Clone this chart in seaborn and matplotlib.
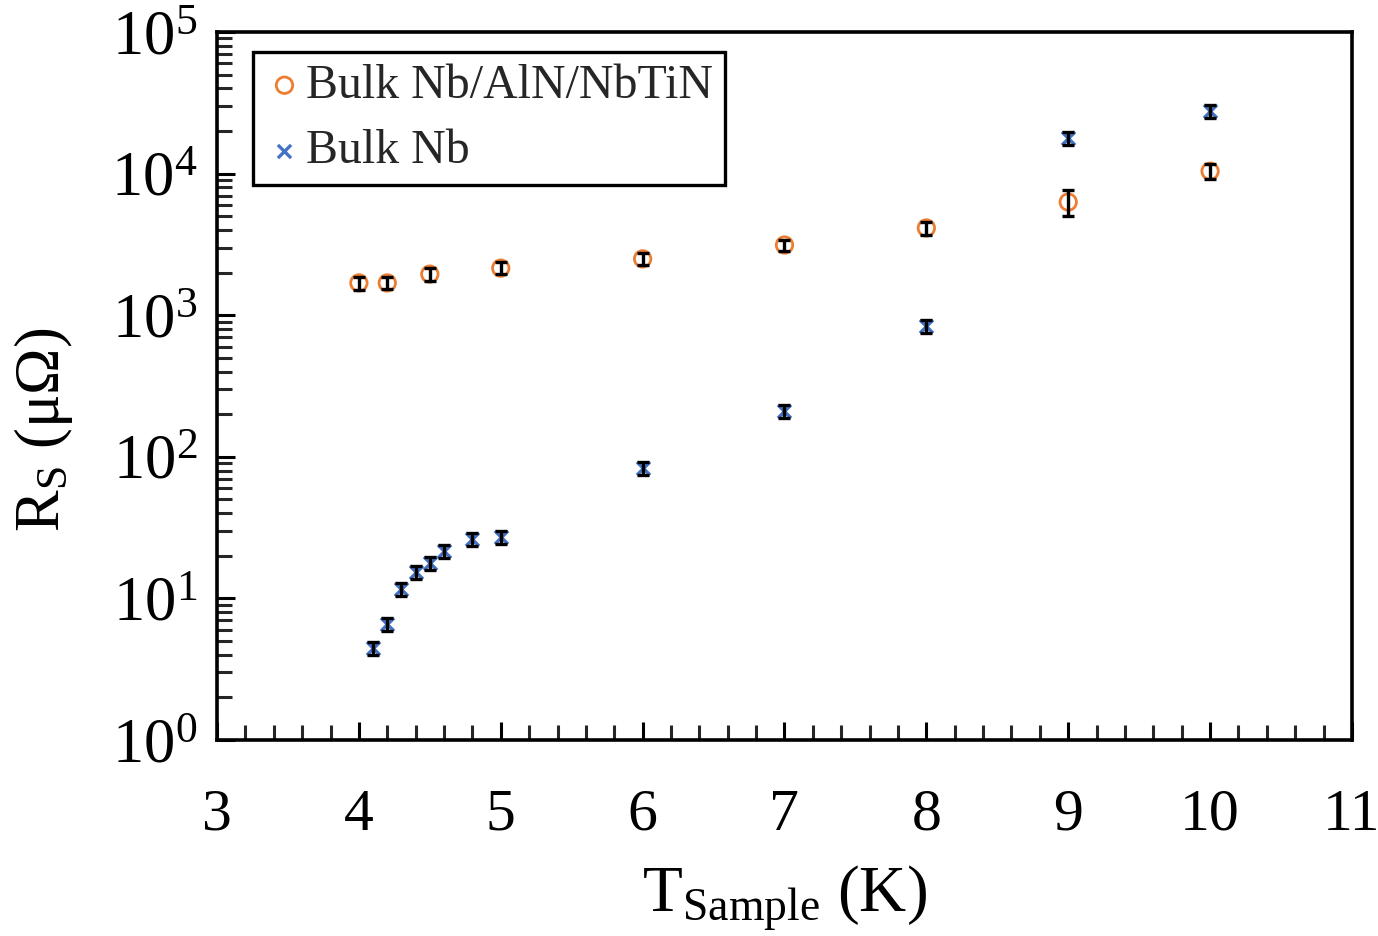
import numpy as np
import pandas as pd
import matplotlib
matplotlib.use("Agg")
import matplotlib.pyplot as plt
import seaborn as sns
from matplotlib.ticker import MultipleLocator, LogLocator, NullFormatter

# ---- data ----
t_coated = [4.0, 4.2, 4.5, 5.0, 6.0, 7.0, 8.0, 9.0, 10.0]
rs_coated = [1690, 1690, 1950, 2150, 2500, 3130, 4130, 6300, 10400]
err_coated = [180, 170, 200, 210, 240, 290, 420, 1300, 1300]

t_bulk = [4.1, 4.2, 4.3, 4.4, 4.5, 4.6, 4.8, 5.0, 6.0, 7.0, 8.0, 9.0, 10.0]
rs_bulk = [4.46, 6.6, 11.6, 15.4, 17.8, 21.6, 26.3, 27.2, 83, 211, 839, 17800, 27700]
err_bulk = [0.5, 0.7, 1.2, 1.6, 1.8, 2.2, 2.7, 2.8, 8.5, 22, 85, 2000, 2900]

label_coated = "Bulk Nb/AlN/NbTiN"
label_bulk = "Bulk Nb"
ytick_vals = [1, 10, 100, 1000, 10000, 100000]
ytick_labels = [r"10$^{0}$", r"10$^{1}$", r"10$^{2}$", r"10$^{3}$", r"10$^{4}$", r"10$^{5}$"]
xtick_vals = [3, 4, 5, 6, 7, 8, 9, 10, 11]

orange = "#ED7D31"
blue = "#4472C4"

sns.set_theme(style="white")
plt.rcParams["font.family"] = ["Liberation Serif", "DejaVu Serif"]
plt.rcParams["mathtext.fontset"] = "custom"
plt.rcParams["mathtext.rm"] = "Liberation Serif"
plt.rcParams["mathtext.it"] = "Liberation Serif:italic"
plt.rcParams["mathtext.bf"] = "Liberation Serif:bold"

df_c = pd.DataFrame({"T": t_coated, "R": rs_coated})
df_b = pd.DataFrame({"T": t_bulk, "R": rs_bulk})

fig = plt.figure(figsize=(13.78, 9.36), dpi=100)
ax = fig.add_axes([0.1575, 0.2094, 0.9811 - 0.1575, 0.9658 - 0.2094])

sns.scatterplot(data=df_c, x="T", y="R", ax=ax, marker="o", s=140,
                color=orange, linewidth=2.0, label=label_coated, zorder=3)
coll_c = ax.collections[-1]
coll_c.set_facecolor("none")
coll_c.set_edgecolor(orange)

sns.scatterplot(data=df_b, x="T", y="R", ax=ax, marker="x", s=90,
                color=blue, linewidth=2.4, label=label_bulk, zorder=3)

ax.errorbar(t_coated, rs_coated, yerr=err_coated, fmt="none", ecolor="black",
            elinewidth=2.4, capsize=4, capthick=2.4, zorder=4)
ax.errorbar(t_bulk, rs_bulk, yerr=err_bulk, fmt="none", ecolor="black",
            elinewidth=2.4, capsize=4, capthick=2.4, zorder=4)

ax.set_yscale("log")
ax.set_xlim(3, 11)
ax.set_ylim(1, 1e5)

ax.set_xticks(xtick_vals)
ax.set_xticklabels([str(v) for v in xtick_vals])
ax.xaxis.set_minor_locator(MultipleLocator(0.2))
ax.set_yticks(ytick_vals)
ax.set_yticklabels(ytick_labels)
ax.yaxis.set_minor_locator(LogLocator(base=10, subs=np.arange(2, 10), numticks=20))
ax.yaxis.set_minor_formatter(NullFormatter())

ax.tick_params(axis="both", which="major", direction="in", length=13, width=2.2,
               labelsize=45, colors="black", top=False, right=False, left=True, bottom=True)
ax.tick_params(axis="x", which="major", labelsize=43, pad=35)
ax.tick_params(axis="both", which="minor", direction="in", length=10.5, width=2.2,
               top=False, right=False, left=True, bottom=True)
ax.tick_params(axis="y", which="major", pad=14)

for sp in ax.spines.values():
    sp.set_visible(True)
    sp.set_color("black")
    sp.set_linewidth(2.6)

ax.set_xlabel(r"T$_{\mathregular{Sample}}$ (K)", fontsize=47, color="black")
ax.set_ylabel(r"R$_{\mathregular{S}}$ (μΩ)", fontsize=45, color="black")
ax.xaxis.set_label_coords(0.5, -0.175)
ax.yaxis.set_label_coords(-0.125, 0.438)

leg = ax.legend(loc="upper left", bbox_to_anchor=(0.032, 0.972), fontsize=34.5,
                frameon=True, fancybox=False, edgecolor="black", framealpha=1.0,
                handletextpad=0.05, handlelength=0.8, borderpad=0.25,
                labelspacing=0.45, borderaxespad=0)
leg.get_frame().set_linewidth(2.4)
leg.get_frame().set_facecolor("white")

fig.savefig("out.png", dpi=100)
